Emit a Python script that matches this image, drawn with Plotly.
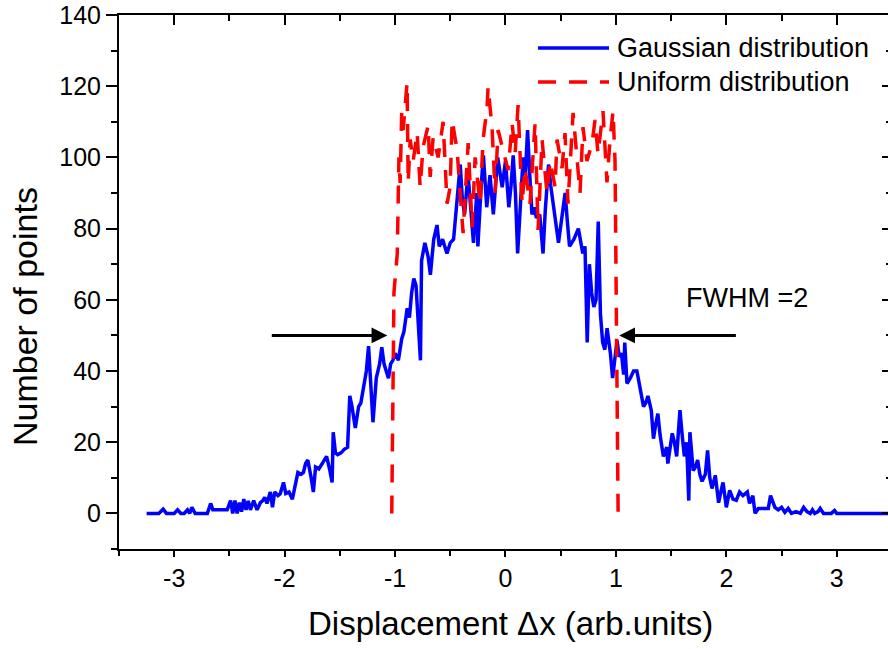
import plotly.graph_objects as go

# ---- data ----
gauss_x = [-3.25, -3.14, -3.10, -3.07, -3.00, -2.97, -2.94, -2.91, -2.88, -2.86, -2.84, -2.81,
           -2.70, -2.67, -2.65, -2.52, -2.49, -2.47, -2.45, -2.43, -2.41, -2.39, -2.37, -2.35,
           -2.33, -2.31, -2.28, -2.25, -2.22, -2.20, -2.18, -2.16, -2.13, -2.11, -2.09, -2.06,
           -2.04, -2.01, -1.99, -1.96, -1.93, -1.91, -1.88, -1.85, -1.83, -1.81, -1.79, -1.76,
           -1.74, -1.72, -1.69, -1.66, -1.64, -1.62, -1.59, -1.57, -1.56, -1.54, -1.52, -1.49,
           -1.46, -1.43, -1.41, -1.39, -1.36, -1.33, -1.31, -1.29, -1.26, -1.24, -1.22, -1.20,
           -1.17, -1.14, -1.12, -1.10, -1.08, -1.06, -1.04, -1.02, -1.00, -0.97, -0.94, -0.92,
           -0.89, -0.87, -0.85, -0.83, -0.81, -0.79, -0.77, -0.76, -0.73, -0.70, -0.68, -0.65,
           -0.62, -0.60, -0.57, -0.53, -0.50, -0.47, -0.44, -0.41, -0.39, -0.37, -0.34, -0.31,
           -0.29, -0.26, -0.25, -0.22, -0.20, -0.17, -0.14, -0.11, -0.09, -0.07, -0.03, 0.00,
           0.03, 0.05, 0.07, 0.09, 0.11, 0.14, 0.16, 0.18, 0.20, 0.22, 0.24, 0.26,
           0.28, 0.31, 0.34, 0.36, 0.39, 0.41, 0.43, 0.46, 0.48, 0.51, 0.54, 0.56,
           0.58, 0.62, 0.66, 0.70, 0.72, 0.74, 0.76, 0.78, 0.80, 0.82, 0.84, 0.86,
           0.88, 0.90, 0.92, 0.95, 0.97, 1.01, 1.03, 1.05, 1.07, 1.08, 1.10, 1.13,
           1.16, 1.19, 1.22, 1.25, 1.27, 1.29, 1.32, 1.34, 1.36, 1.38, 1.40, 1.43,
           1.46, 1.47, 1.51, 1.53, 1.55, 1.58, 1.60, 1.62, 1.64, 1.66, 1.67, 1.70,
           1.72, 1.74, 1.76, 1.78, 1.81, 1.83, 1.85, 1.87, 1.90, 1.93, 1.95, 1.97,
           2.00, 2.03, 2.06, 2.09, 2.12, 2.15, 2.19, 2.21, 2.24, 2.26, 2.29, 2.38,
           2.40, 2.44, 2.47, 2.50, 2.53, 2.56, 2.59, 2.63, 2.67, 2.70, 2.73, 2.76,
           2.78, 2.80, 2.83, 2.85, 2.88, 2.95, 2.98, 3.00, 3.50]
gauss_y = [0, 0, 1.2, 0, 0, 1, 0, 0, 1, 0, 1.7, 0,
           0, 2.8, 1, 1, 3.6, 0, 3.6, 0, 3, 0.5, 4, 1,
           3.5, 1, 3.6, 1, 3, 3.5, 4.5, 2.8, 6, 1.7, 6, 5,
           5.5, 8.7, 5.6, 6, 4, 7, 11.5, 11, 11.5, 14, 15, 10,
           6, 13, 12.5, 14, 15, 16, 12, 8.7, 22.8, 17, 16.5, 17,
           18, 18.6, 33, 30, 24, 30, 31, 35, 40, 47, 35, 25.6,
           38, 42, 46.7, 42, 40, 38, 42, 43, 45, 43, 49, 51,
           57.6, 55, 62, 66, 64, 55, 43, 71, 76, 72, 67, 77,
           81, 75, 77, 73, 76, 77, 88, 98, 88, 84, 95.6, 85,
           76, 90, 75, 92, 100.6, 86, 95, 84, 92, 100, 91.6, 99,
           86, 92, 100.6, 90, 73, 88, 100, 95, 107.7, 95, 84, 86,
           83, 84, 73, 85, 98, 92, 87, 80, 76, 83, 90, 82,
           75, 77, 80, 73, 75, 48, 70, 62, 58, 60, 82, 56,
           48, 46, 52, 45, 38, 48.6, 44, 45, 39, 48, 36.5, 38,
           40, 40, 35, 30, 31, 33, 29, 21, 25, 28, 22, 16,
           18.6, 14, 22.5, 20, 16, 29, 22, 16, 20, 3.6, 22.8, 12,
           13, 15, 11, 9, 11, 17.7, 10, 7, 10.7, 3, 6, 8.7,
           1.7, 6.5, 4, 3.7, 6, 5, 6, 2.8, 5, 0, 1.4, 1.4,
           5, 1.7, 1, 1.7, 0.3, 1.4, 0, 0.5, 0, 1.7, 0.5, 0,
           1, 0, 0.5, 1.4, 0, 0, 0.8, 0, 0]

unif_x = [-1.03, -1.01, -0.98, -0.965, -0.954, -0.94, -0.927, -0.891, -0.881, -0.863, -0.836, -0.800,
          -0.773, -0.746, -0.700, -0.682, -0.655, -0.610, -0.565, -0.529, -0.501, -0.483, -0.438, -0.411,
          -0.384, -0.338, -0.302, -0.275, -0.230, -0.203, -0.167, -0.158, -0.122, -0.094, -0.067, -0.022,
          0.024, 0.060, 0.087, 0.114, 0.150, 0.177, 0.222, 0.268, 0.295, 0.331, 0.376, 0.404,
          0.449, 0.467, 0.512, 0.539, 0.566, 0.612, 0.675, 0.702, 0.738, 0.784, 0.811, 0.838,
          0.883, 0.919, 0.947, 0.974, 0.992, 1.020]
unif_y = [0, 62, 73, 100, 92.8, 112.5, 107.7, 121, 93, 105, 99, 107,
          91.7, 103, 109, 94.5, 105.7, 100, 110, 87, 91.7, 110.5, 102, 90.8,
          78.7, 104, 80.4, 100, 87, 105, 113.9, 119.8, 108.5, 90, 107.7, 102,
          96.4, 109.6, 101, 114.7, 87, 97, 87, 109.6, 79.6, 105, 90, 99,
          91.7, 105, 97, 106.8, 87, 112.5, 90, 108.5, 99, 104, 110.5, 101,
          113, 93, 105, 113, 99, 0]

series_names = ["Gaussian distribution", "Uniform distribution"]
x_tick_vals = [-3, -2, -1, 0, 1, 2, 3]
x_tick_text = ["-3", "-2", "-1", "0", "1", "2", "3"]
y_tick_vals = [0, 20, 40, 60, 80, 100, 120, 140]
y_tick_text = ["0", "20", "40", "60", "80", "100", "120", "140"]
fwhm_label = "FWHM =2"
fwhm_level = 50
fwhm_left = [-2.13, -1.07]
fwhm_right = [2.10, 1.03]

FONT = "Liberation Sans, Arial, sans-serif"
BLUE = "#0000FF"
RED = "#FF0000"
LW = 3.5
DASH = "18px,13px"

fig = go.Figure()
fig.add_trace(go.Scatter(x=gauss_x, y=gauss_y, mode="lines", name=series_names[0],
                         line=dict(color=BLUE, width=LW), showlegend=False))
fig.add_trace(go.Scatter(x=unif_x, y=unif_y, mode="lines", name=series_names[1],
                         line=dict(color=RED, width=LW, dash=DASH), showlegend=False))
# empty trace so the mirrored top/right axes exist
fig.add_trace(go.Scatter(x=[], y=[], xaxis="x2", yaxis="y2", showlegend=False, hoverinfo="skip"))

# manual legend
leg_x0, leg_x1, leg_tx = 0.5449, 0.6372, 0.6450
leg_ys = [0.9382, 0.8745]
fig.add_shape(type="line", xref="paper", yref="paper", x0=leg_x0, x1=leg_x1, y0=leg_ys[0], y1=leg_ys[0],
              line=dict(color=BLUE, width=LW))
fig.add_shape(type="line", xref="paper", yref="paper", x0=leg_x0, x1=leg_x1, y0=leg_ys[1], y1=leg_ys[1],
              line=dict(color=RED, width=LW, dash=DASH))
for name, ly in zip(series_names, leg_ys):
    fig.add_annotation(xref="paper", yref="paper", x=leg_tx, y=ly, text=name, showarrow=False,
                       xanchor="left", yanchor="middle", font=dict(family=FONT, size=27, color="black"))

# FWHM arrows
for tail, tip in [fwhm_left, fwhm_right]:
    fig.add_annotation(x=tip, y=fwhm_level, ax=tail, ay=fwhm_level, xref="x", yref="y",
                       axref="x", ayref="y", text="", showarrow=True, arrowhead=2,
                       arrowsize=1.05, arrowwidth=3, arrowcolor="black", standoff=0)
fig.add_annotation(xref="paper", yref="paper", x=0.8166, y=0.470, text=fwhm_label, showarrow=False,
                   xanchor="center", yanchor="middle", font=dict(family=FONT, size=27, color="black"))

# axis titles
fig.add_annotation(xref="paper", yref="paper", x=0.5085, y=-0.1386, text="Displacement \u0394x (arb.units)",
                   showarrow=False, xanchor="center", yanchor="middle",
                   font=dict(family=FONT, size=33, color="black"))
fig.add_annotation(xref="paper", yref="paper", x=-0.1222, y=0.4345, text="Number of points",
                   showarrow=False, xanchor="center", yanchor="middle", textangle=-90,
                   font=dict(family=FONT, size=34, color="black"))

axis_common = dict(showgrid=False, zeroline=False, linecolor="black", linewidth=2,
                   tickcolor="black", tickwidth=2)
fig.update_layout(
    width=888, height=649,
    margin=dict(l=119, r=0, t=15, b=100),
    paper_bgcolor="white", plot_bgcolor="white",
    font=dict(family=FONT, color="black"),
    xaxis=dict(range=[-3.5, 3.464], showline=True, ticks="outside", ticklen=6,
               tickvals=x_tick_vals, ticktext=x_tick_text,
               tickfont=dict(family=FONT, size=25, color="black"),
               minor=dict(dtick=0.5, tick0=0, ticks="outside", ticklen=5, tickwidth=2, tickcolor="black"),
               **axis_common),
    yaxis=dict(range=[-10, 140], showline=True, ticks="outside", ticklen=11,
               tickvals=y_tick_vals, ticktext=y_tick_text,
               tickfont=dict(family=FONT, size=25, color="black"),
               minor=dict(dtick=10, tick0=0, ticks="outside", ticklen=6, tickwidth=2, tickcolor="black"),
               **axis_common),
    xaxis2=dict(overlaying="x", side="top", matches="x", anchor="y2", showline=True,
                ticks="inside", ticklen=10, dtick=1, tick0=0, showticklabels=False,
                minor=dict(dtick=0.5, tick0=0, ticks="inside", ticklen=6, tickwidth=2, tickcolor="black"),
                **axis_common),
    yaxis2=dict(overlaying="y", side="right", matches="y", anchor="x2", showline=False,
                ticks="inside", ticklen=6, dtick=20, tick0=0, showticklabels=False,
                minor=dict(dtick=10, tick0=0, ticks="inside", ticklen=2, tickwidth=2, tickcolor="black"),
                **axis_common),
)

fig.write_html("out.html")
